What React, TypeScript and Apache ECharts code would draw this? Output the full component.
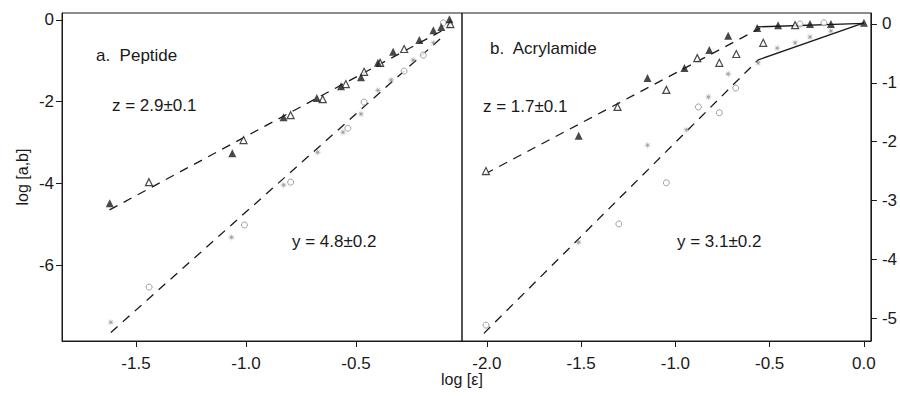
import React, { useEffect, useRef } from "react";
import * as echarts from "echarts";

type Pt = [number, number];

// ---- Panel a: Peptide ----
const peptideFilledTri: Pt[] = [
  [-1.619, -4.49], [-1.062, -3.26], [-0.829, -2.38], [-0.678, -1.91], [-0.568, -1.62],
  [-0.477, -1.4], [-0.4, -1.05], [-0.331, -0.78], [-0.212, -0.49], [-0.148, -0.25],
  [-0.112, -0.17], [-0.075, 0.02],
];
const peptideOpenTri: Pt[] = [
  [-1.441, -3.97], [-1.011, -2.94], [-0.797, -2.33], [-0.651, -1.94], [-0.546, -1.57],
  [-0.463, -1.27], [-0.39, -1.05], [-0.281, -0.71], [-0.071, -0.1],
];
const peptideCircles: Pt[] = [
  [-1.44, -6.54], [-1.007, -5.02], [-0.797, -3.97], [-0.537, -2.65], [-0.463, -2.01],
  [-0.281, -1.25], [-0.194, -0.86], [-0.103, -0.07],
];
const peptideAsterisks: Pt[] = [
  [-1.614, -7.4], [-1.066, -5.32], [-0.829, -4.04], [-0.674, -3.24], [-0.559, -2.75],
  [-0.477, -2.3], [-0.4, -1.72], [-0.34, -1.47], [-0.24, -0.98], [-0.148, -0.56], [-0.075, -0.1],
];
const peptideZFit: Pt[] = [[-1.62, -4.65], [-0.07, -0.15]];
const peptideYFit: Pt[] = [[-1.614, -7.65], [-0.1, -0.38]];

// ---- Panel b: Acrylamide ----
const acrylFilledTri: Pt[] = [
  [-1.513, -1.9], [-1.148, -0.92], [-0.952, -0.75], [-0.82, -0.44], [-0.72, -0.2],
  [-0.566, -0.07], [-0.455, -0.02], [-0.286, 0], [-0.175, 0], [0, 0.02],
];
const acrylOpenTri: Pt[] = [
  [-2.005, -2.5], [-1.307, -1.41], [-1.048, -1.12], [-0.884, -0.58], [-0.767, -0.66],
  [-0.677, -0.51], [-0.534, -0.32], [-0.365, -0.02],
];
const acrylCircles: Pt[] = [
  [-2.005, -5.12], [-1.3, -3.4], [-1.048, -2.7], [-0.878, -1.41], [-0.767, -1.51],
  [-0.68, -1.09], [-0.339, 0], [-0.212, 0.02],
];
const acrylAsterisks: Pt[] = [
  [-1.513, -3.71], [-1.148, -2.06], [-0.942, -1.8], [-0.825, -1.24], [-0.72, -0.85],
  [-0.561, -0.66], [-0.46, -0.41], [-0.365, -0.32], [-0.286, -0.22], [-0.175, -0.12],
];
const acrylZFit: Pt[] = [[-2.01, -2.55], [-0.55, -0.07]];
const acrylZSolid: Pt[] = [[-0.57, -0.05], [0, 0.01]];
const acrylYFit: Pt[] = [[-2.016, -5.26], [-0.561, -0.61]];
const acrylYSolid: Pt[] = [[-0.561, -0.61], [0, 0.02]];

// ---- ticks ----
const xTicksLeft = [-1.5, -1.0, -0.5];
const xTicksRight = [-2.0, -1.5, -1.0, -0.5, 0.0];
const yTicksLeft = [0, -2, -4, -6];
const yTicksRight = [0, -1, -2, -3, -4, -5];

const ASTERISK =
  "path://M10,5 L6.2,5.5 L8.54,8.54 L5.5,6.2 L5,10 L4.5,6.2 L1.46,8.54 L3.8,5.5 L0,5 L3.8,4.5 L1.46,1.46 L4.5,3.8 L5,0 L5.5,3.8 L8.54,1.46 L6.2,4.5 Z";

const INK = "#1a1a1a";
const GRAY = "#8a8a8a";
const FONT = "Arial, 'Liberation Sans', sans-serif";

function scatter(data: Pt[], idx: number, kind: string) {
  const base: any = {
    type: "scatter",
    xAxisIndex: idx,
    yAxisIndex: idx,
    data,
    silent: true,
    z: 3,
  };
  if (kind === "filled") {
    return { ...base, symbol: "triangle", symbolSize: 8, itemStyle: { color: INK } };
  }
  if (kind === "open") {
    return {
      ...base,
      symbol: "triangle",
      symbolSize: 7,
      itemStyle: { color: "#fff", borderColor: INK, borderWidth: 1.2 },
    };
  }
  if (kind === "circle") {
    return {
      ...base,
      symbol: "circle",
      symbolSize: 6,
      itemStyle: { color: "#fff", borderColor: GRAY, borderWidth: 1 },
    };
  }
  return { ...base, symbol: ASTERISK, symbolSize: 8, itemStyle: { color: GRAY } };
}

function line(data: Pt[], idx: number, dashed: boolean) {
  return {
    type: "line",
    xAxisIndex: idx,
    yAxisIndex: idx,
    data,
    symbol: "none",
    silent: true,
    z: 2,
    lineStyle: { color: INK, width: 1.3, type: dashed ? [9, 7] : "solid" },
  };
}

function xAxis(idx: number, min: number, max: number, ticks: number[]) {
  return {
    type: "value",
    gridIndex: idx,
    min,
    max,
    axisLine: { show: true, onZero: false, lineStyle: { color: INK, width: 1 } },
    axisTick: { show: true, length: 6, customValues: ticks, lineStyle: { color: INK } },
    axisLabel: {
      customValues: ticks,
      formatter: (v: number) => v.toFixed(1),
      fontSize: 17,
      color: INK,
      fontFamily: FONT,
      margin: 14,
    },
    splitLine: { show: false },
  };
}

function yAxis(idx: number, min: number, max: number, ticks: number[], pos: string, name?: string) {
  return {
    type: "value",
    gridIndex: idx,
    position: pos,
    min,
    max,
    name: name || "",
    nameLocation: "middle",
    nameRotate: 90,
    nameGap: 32,
    nameTextStyle: { fontSize: 16, color: INK, fontFamily: FONT },
    axisLine: { show: true, onZero: false, lineStyle: { color: INK, width: 1 } },
    axisTick: { show: true, length: 6, customValues: ticks, lineStyle: { color: INK } },
    axisLabel: {
      customValues: ticks,
      formatter: (v: number) => String(v),
      fontSize: 17,
      color: INK,
      fontFamily: FONT,
      margin: pos === "right" ? 11 : 8,
    },
    splitLine: { show: false },
  };
}

function txt(text: string, left: number, top: number, size = 17) {
  return {
    type: "text",
    left,
    top,
    silent: true,
    style: { text, font: `${size}px ${FONT}`, fill: INK },
  };
}

export default function App() {
  const ref = useRef<HTMLDivElement>(null);
  useEffect(() => {
    if (!ref.current) return;
    const chart = echarts.init(ref.current, undefined, { renderer: "svg" });
    chart.setOption({
      animation: false,
      backgroundColor: "#fff",
      grid: [
        { left: 62, top: 13, width: 400, height: 328, show: true, borderColor: INK, borderWidth: 1 },
        { left: 462, top: 13, width: 411, height: 328, show: true, borderColor: INK, borderWidth: 1 },
      ],
      xAxis: [
        xAxis(0, -1.836, -0.018, xTicksLeft),
        xAxis(1, -2.132, 0.037, xTicksRight),
      ],
      yAxis: [
        yAxis(0, -7.86, 0.171, yTicksLeft, "left", "log [a,b]"),
        yAxis(1, -5.39, 0.187, yTicksRight, "right"),
      ],
      series: [
        line(peptideZFit, 0, true),
        line(peptideYFit, 0, true),
        scatter(peptideCircles, 0, "circle"),
        scatter(peptideAsterisks, 0, "asterisk"),
        scatter(peptideOpenTri, 0, "open"),
        scatter(peptideFilledTri, 0, "filled"),
        line(acrylZFit, 1, true),
        line(acrylZSolid, 1, false),
        line(acrylYFit, 1, true),
        line(acrylYSolid, 1, false),
        scatter(acrylCircles, 1, "circle"),
        scatter(acrylAsterisks, 1, "asterisk"),
        scatter(acrylOpenTri, 1, "open"),
        scatter(acrylFilledTri, 1, "filled"),
      ],
      graphic: [
        txt("a.  Peptide", 96, 47),
        txt("z = 2.9±0.1", 112, 97),
        txt("y = 4.8±0.2", 292, 233),
        txt("b.  Acrylamide", 490, 40),
        txt("z = 1.7±0.1", 483, 98),
        txt("y = 3.1±0.2", 677, 233),
        txt("log [ε]", 441, 371, 16),
      ],
    });
    return () => chart.dispose();
  }, []);
  return (
    <div
      ref={ref}
      style={{ position: "fixed", left: 0, top: 0, width: 900, height: 396 }}
    />
  );
}
